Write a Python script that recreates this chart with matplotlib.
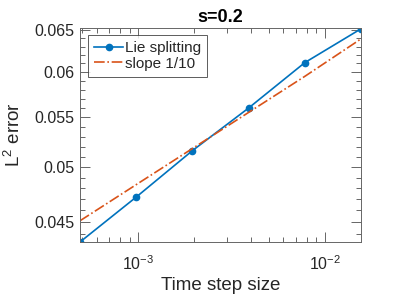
import matplotlib
matplotlib.use("Agg")
import matplotlib.pyplot as plt
from matplotlib.ticker import FixedLocator, FixedFormatter, LogLocator, NullFormatter

plt.rcParams['font.family'] = ['Liberation Sans', 'DejaVu Sans']
plt.rcParams['mathtext.fontset'] = 'custom'
plt.rcParams['mathtext.rm'] = 'Liberation Sans'
plt.rcParams['mathtext.it'] = 'Liberation Sans:italic'
plt.rcParams['mathtext.bf'] = 'Liberation Sans:bold'

# data
dt = [1/2048, 1/1024, 1/512, 1/256, 1/128, 1/64]
err = [0.0433, 0.0472, 0.0516, 0.0560, 0.0611, 0.0652]
ref = [0.0451, 0.04834, 0.05181, 0.05553, 0.05951, 0.06395]
yticks = [0.045, 0.05, 0.055, 0.06, 0.065]
yticklabels = ['0.045', '0.05', '0.055', '0.06', '0.065']
yminor = [0.044, 0.046, 0.047, 0.048, 0.049, 0.051, 0.052, 0.053, 0.054,
          0.056, 0.057, 0.058, 0.059, 0.061, 0.062, 0.063, 0.064]
xticks = [1e-3, 1e-2]
xticklabels = ['$10^{-3}$', '$10^{-2}$']

blue = '#0072BD'
orange = '#D95319'
axcol = '#262626'

fig = plt.figure(figsize=(3.99, 2.99), dpi=100)
ax = fig.add_axes([80/399, 57/299, 281/399, 214/299])

ax.plot(dt, err, '-', color=blue, lw=1.2, marker='o', ms=4.5,
        markerfacecolor=blue, markeredgecolor=blue, label='Lie splitting')
ax.plot(dt, ref, '-.', color=orange, lw=1.2, label='slope 1/10')

ax.set_xscale('log')
ax.set_yscale('log')
ax.set_xlim(dt[0], dt[-1])
ax.set_ylim(0.0433, 0.0653)

ax.yaxis.set_major_locator(FixedLocator(yticks))
ax.yaxis.set_major_formatter(FixedFormatter(yticklabels))
ax.yaxis.set_minor_locator(FixedLocator(yminor))
ax.yaxis.set_minor_formatter(NullFormatter())
ax.xaxis.set_major_locator(FixedLocator(xticks))
ax.xaxis.set_major_formatter(FixedFormatter(xticklabels))
ax.xaxis.set_minor_locator(LogLocator(base=10, subs=[2, 3, 4, 5, 6, 7, 8, 9]))
ax.xaxis.set_minor_formatter(NullFormatter())

for s in ax.spines.values():
    s.set_color('#666666')
    s.set_linewidth(0.7)
ax.tick_params(which='both', direction='in', top=True, right=True,
               colors='#666666', labelcolor=axcol, width=0.7)
ax.tick_params(which='major', length=7, labelsize=11.5)
ax.tick_params(which='minor', length=3.5)
ax.tick_params(axis='x', which='major', pad=9)
ax.tick_params(axis='y', which='major', pad=4)

ax.set_title('s=0.2', fontsize=13, fontweight='bold', color='black', pad=4)
ax.set_xlabel('Time step size', fontsize=13.5, color=axcol)
ax.set_ylabel('L$^2$ error', fontsize=13.5, color=axcol)
ax.xaxis.set_label_coords(0.5, -0.165)
ax.yaxis.set_label_coords(-0.2, 0.5)

leg = ax.legend(loc='upper left', bbox_to_anchor=(8/281, 1 - 7/214), borderaxespad=0,
                fontsize=11, frameon=True, fancybox=False, handlelength=1.9,
                handletextpad=0.12, borderpad=0.4, labelspacing=0.1)
leg.get_frame().set_edgecolor('#333333')
leg.get_frame().set_linewidth(0.7)
for t in leg.get_texts():
    t.set_color(axcol)

fig.savefig('out.png', dpi=100)
